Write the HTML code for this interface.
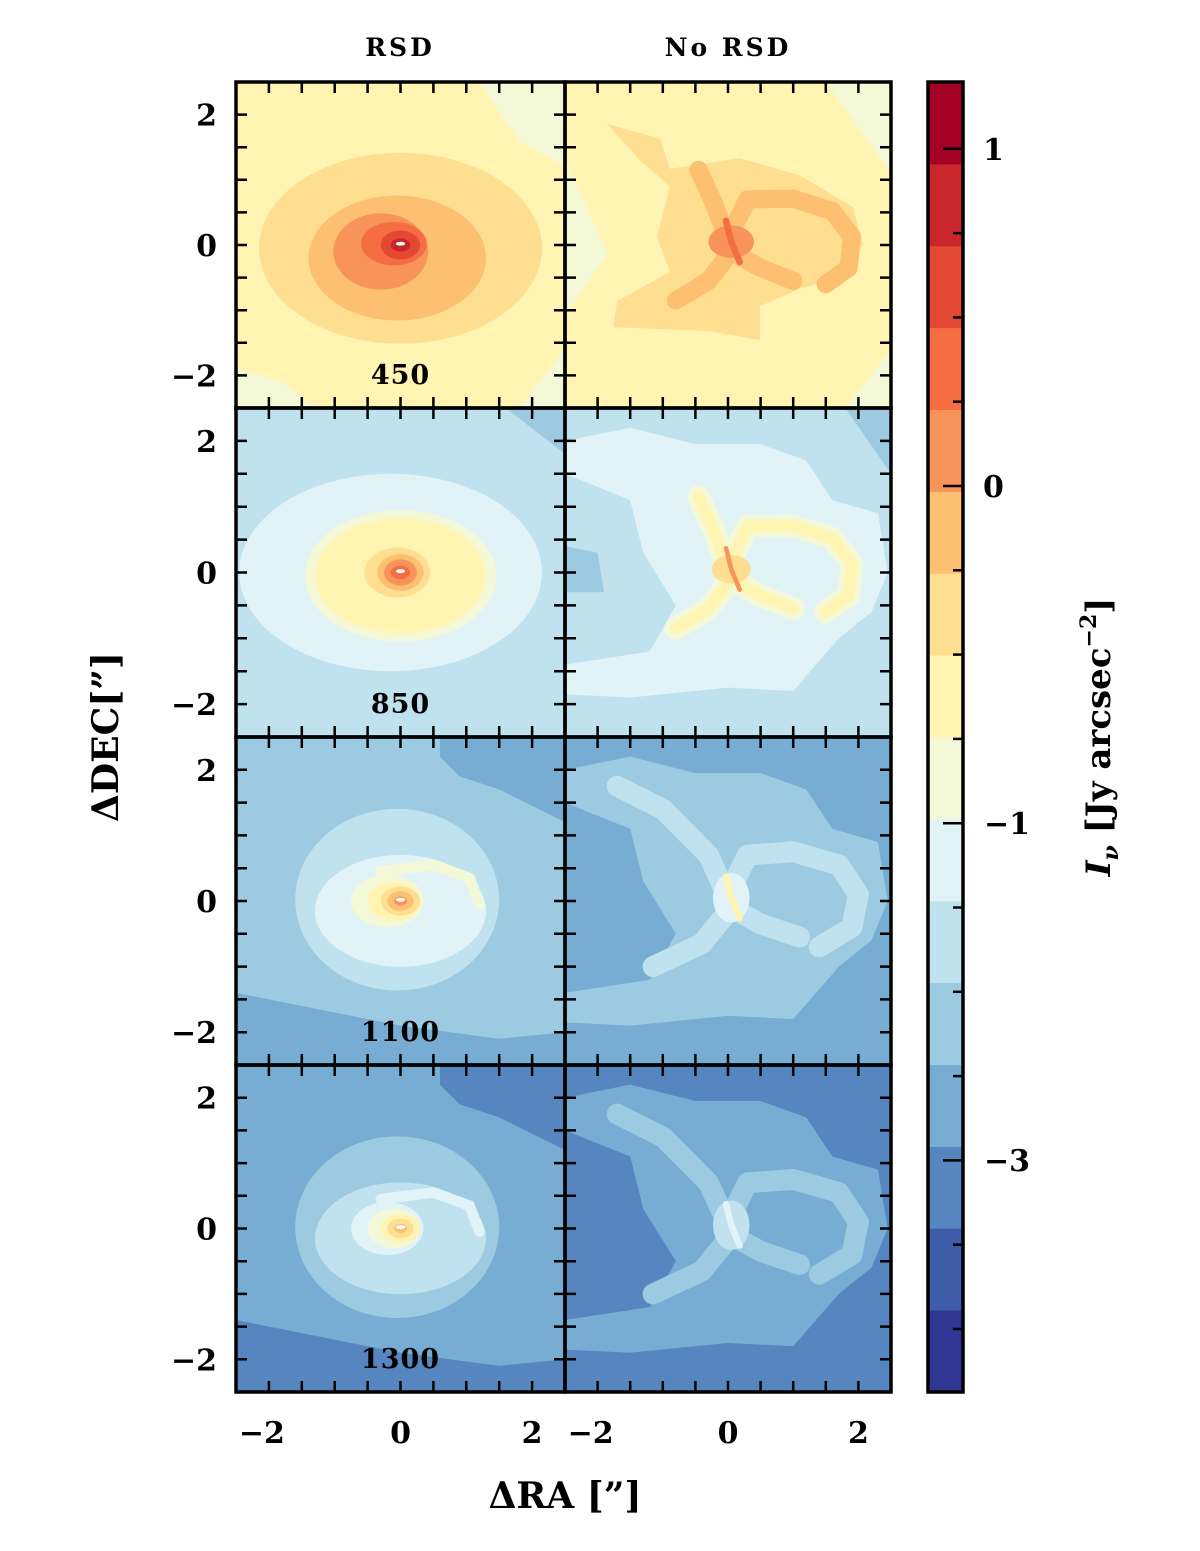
<!DOCTYPE html>
<html><head><meta charset="utf-8"><style>
html,body{margin:0;padding:0;background:#fff;}
svg{display:block;}
text{font-family:"DejaVu Serif","Liberation Serif",serif;font-weight:bold;fill:#000;}
</style></head><body>
<svg id="fig" width="1200" height="1551" viewBox="0 0 1200 1551" xmlns="http://www.w3.org/2000/svg">
<defs id="defs"></defs>
<g id="panels"></g>
<g id="frames"></g>
<g id="cbar"></g>
<text x="400" y="56" font-size="25" text-anchor="middle" letter-spacing="3">RSD</text>
<text x="728" y="56" font-size="25" text-anchor="middle" letter-spacing="3">No RSD</text>
<text x="565" y="1508" font-size="36" text-anchor="middle">ΔRA [”]</text>
<text x="0" y="0" font-size="36" text-anchor="middle" transform="translate(118,737) rotate(-90)">ΔDEC[”]</text>
<text x="0" y="0" font-size="34" text-anchor="middle" transform="translate(1110,737) rotate(-90)"><tspan font-style="italic">I</tspan><tspan font-style="italic" font-size="22" dy="8">ν</tspan><tspan dy="-8"> [Jy arcsec</tspan><tspan font-size="22" dy="-14">−2</tspan><tspan dy="14">]</tspan></text>
</svg>
<script>
// colour bands (index 0 = lowest level)
const bandColors = ["#313695","#3f5ca9","#5785c0","#77acd3","#9ccae1","#c0e2ee","#e2f3f8","#f3f9d6","#fff4b2","#fedf92","#fdbf70","#f8935a","#f46d43","#e34932","#c9252a","#a50026"];
const xTickLabels = ["−2","0","2"];
const xTickValues = [-2,0,2];
const yTickLabels = ["2","0","−2"];
const yTickValues = [2,0,-2];
const wavelengths = ["450","850","1100","1300"];
const cbarLabels = ["1","0","−1","−3"];

// shared geometry (arcsec)
const polyBig = [[-1.86,1.86],[-1.04,1.63],[-0.89,1.17],[0.18,1.33],[1.1,1.07],[1.92,0.58],[2.07,0],[1.82,-0.48],[1.1,-0.67],[0.49,-0.94],[0.49,-1.46],[-0.28,-1.32],[-1.76,-1.26],[-1.7,-0.86],[-0.89,-0.41],[-1.09,0.12],[-0.89,0.9],[-1.35,1.3]];
const polyOuter = [[-2.5,2.0],[-1.5,2.2],[-0.5,1.95],[0.5,1.95],[1.2,1.7],[1.6,1.1],[2.3,0.9],[2.45,0],[2.2,-0.6],[1.7,-1.0],[1.0,-1.8],[0,-1.75],[-1.5,-1.9],[-2.5,-1.85],[-2.5,-1.4],[-1.2,-1.2],[-0.8,-0.5],[-1.3,0.3],[-1.5,1.1],[-2.5,1.5]];
const armsShort = [[[0,0.05],[-0.2,0.6],[-0.45,1.15]],[[0.1,0.3],[0.3,0.7],[1.0,0.71],[1.6,0.52],[1.9,0.13],[1.85,-0.35],[1.5,-0.6]],[[0.05,-0.1],[-0.3,-0.55],[-0.8,-0.85]],[[0.05,-0.1],[0.5,-0.35],[1.0,-0.55]]];
const armsLong = [[[0,0.05],[-0.3,0.7],[-1.0,1.4],[-1.7,1.75]],[[0.1,0.3],[0.3,0.7],[1.0,0.75],[1.7,0.55],[2.0,0.1],[1.9,-0.4],[1.4,-0.7]],[[0.05,-0.1],[-0.4,-0.65],[-1.15,-1.0]],[[0.05,-0.1],[0.5,-0.35],[1.1,-0.55]]];
const starLine = [[-0.03,0.37],[0.05,0.05],[0.18,-0.26]];
const spiralArc = [[-0.3,0.45],[0.5,0.55],[1.05,0.35],[1.2,-0.05]];
const cornerTR = [[1.2,2.5],[2.5,2.5],[2.5,1.2],[1.8,1.6]];
const cornerBL = [[-2.5,-1.9],[-1.8,-2.1],[-1.3,-2.5],[-2.5,-2.5]];
const cornerBR = [[1.8,-2.5],[2.5,-1.6],[2.5,-2.5]];
const leftWedge = [[-2.5,1.3],[-1.84,-0.14],[-2.5,-1.06]];
const darkTR = [[0.6,2.5],[2.5,2.5],[2.5,1.2],[1.5,1.7],[0.9,1.9],[0.6,2.2]];
const darkBottom = [[-2.5,-1.4],[-1.5,-1.6],[0,-1.9],[1.5,-2.1],[2.5,-2.0],[2.5,-2.5],[-2.5,-2.5]];
const darkLeft = [[-2.5,1.6],[-1.6,1.4],[-1.3,0.5],[-1.2,-0.6],[-1.6,-1.3],[-2.5,-1.4]];

const panelRSD450 = {bg:8, layers:[["poly",cornerTR,7],["poly",cornerBL,7],["poly",cornerBR,7],["ell",[0,-0.05,2.15,1.45],9],["ell",[-0.05,-0.2,1.35,0.95],10],["ell",[-0.3,-0.1,0.72,0.58],11],["ell",[-0.1,0.02,0.5,0.33],12],["ell",[0,0,0.3,0.22],13],["ell",[0,0,0.15,0.1],14],["ell",[0,0.02,0.07,0.03],-1]]};
const panelRSD850 = {bg:5, layers:[["poly",[[1.6,2.5],[2.5,2.5],[2.5,1.8]],4],["ell",[-0.15,0,2.3,1.5],6],["ell",[0,-0.05,1.45,1.0],7],["ell",[0,-0.05,1.3,0.88],8],["ell",[-0.05,0,0.5,0.38],9],["ell",[0,0,0.35,0.28],10],["ell",[0,0,0.25,0.2],11],["ell",[0,0,0.15,0.1],12],["ell",[0,0.02,0.07,0.03],-1]]};
const panelRSD1100 = {bg:4, layers:[["poly",darkTR,3],["poly",darkBottom,3],["ell",[-0.05,0.02,1.55,1.38],5],["ell",[0,-0.15,1.3,0.85],6],["line",spiralArc,7,0.16],["ell",[-0.2,0,0.55,0.4],7],["ell",[-0.1,0,0.4,0.3],8],["ell",[0,0,0.3,0.22],9],["ell",[0,0,0.2,0.15],10],["ell",[0,0,0.1,0.07],11],["ell",[0,0.02,0.07,0.03],-1]]};
const panelRSD1300 = {bg:3, layers:[["poly",darkTR,2],["poly",darkBottom,2],["ell",[-0.05,0.02,1.55,1.38],4],["ell",[0,-0.15,1.3,0.85],5],["line",spiralArc,6,0.16],["ell",[-0.2,0,0.55,0.4],6],["ell",[-0.1,0,0.4,0.3],7],["ell",[0,0,0.3,0.22],8],["ell",[0,0,0.2,0.15],9],["ell",[0,0,0.1,0.07],10],["ell",[0,0.02,0.07,0.03],-1]]};
const panelNR450 = {bg:8, layers:[["poly",[[1.5,2.5],[2.5,2.5],[2.5,1.1]],7],["poly",leftWedge,7],["poly",cornerBR,7],["poly",polyBig,9],["arms",armsShort,10,0.28],["ell",[0.05,0.05,0.35,0.25],11],["line",starLine,12,0.1]]};
const panelNR850 = {bg:5, layers:[["poly",[[1.8,2.5],[2.5,2.5],[2.5,1.5]],4],["poly",[[-2.5,0.4],[-2.0,0.3],[-1.9,-0.3],[-2.5,-0.3]],4],["poly",polyOuter,6],["arms",armsShort,7,0.35],["arms",armsShort,8,0.18],["ell",[0.05,0.05,0.3,0.22],9],["line",starLine,11,0.07]]};
const panelNR1100 = {bg:3, layers:[["poly",polyOuter,4],["arms",armsLong,5,0.32],["ell",[0.05,0.05,0.28,0.38],6],["line",starLine,8,0.1]]};
const panelNR1300 = {bg:2, layers:[["poly",darkLeft,2],["poly",polyOuter,3],["arms",armsLong,4,0.32],["ell",[0.05,0.05,0.28,0.38],5],["line",starLine,6,0.1]]};
const panelGrid = [[panelRSD450,panelNR450],[panelRSD850,panelNR850],[panelRSD1100,panelNR1100],[panelRSD1300,panelNR1300]];

const NS = "http://www.w3.org/2000/svg";
const colX = [236,565], colW = [329,326];
const rowY = [82,408,737,1065], rowH = [326,329,328,327];
function mk(tag, attrs, parent){const e=document.createElementNS(NS,tag);for(const k in attrs)e.setAttribute(k,attrs[k]);parent.appendChild(e);return e;}
function col(b){return b<0?"#ffffff":bandColors[b];}

const panelsG = document.getElementById("panels");
const framesG = document.getElementById("frames");
const defs = document.getElementById("defs");
const svg = document.getElementById("fig");

panelGrid.forEach((row, r) => {
  row.forEach((pd, c) => {
    const x0 = colX[c], w = colW[c], y0 = rowY[r], h = rowH[r];
    const sx = v => x0 + (v + 2.5) / 5 * w;
    const sy = v => y0 + (2.5 - v) / 5 * h;
    const k = w / 5;
    const cp = mk("clipPath", {id: "clip" + r + c}, defs);
    mk("rect", {x: x0, y: y0, width: w, height: h}, cp);
    const g = mk("g", {"clip-path": "url(#clip" + r + c + ")"}, panelsG);
    
    
    const bg = mk("rect", {x: x0, y: y0, width: w, height: h, fill: col(pd.bg)}, g);
    
    
    pd.layers.forEach(L => {
      const [type, geo, band, wid] = L;
      let el;
      if (type === "ell") {
        el = mk("ellipse", {cx: sx(geo[0]), cy: sy(geo[1]), rx: geo[2] * k, ry: geo[3] * k, fill: col(band)}, g);
      } else if (type === "poly") {
        el = mk("polygon", {points: geo.map(p => sx(p[0]) + "," + sy(p[1])).join(" "), fill: col(band)}, g);
      } else if (type === "line") {
        el = mk("polyline", {points: geo.map(p => sx(p[0]) + "," + sy(p[1])).join(" "), fill: "none", stroke: col(band), "stroke-width": wid * k, "stroke-linecap": "round", "stroke-linejoin": "round"}, g);
      } else if (type === "arms") {
        el = mk("g", {}, g);
        geo.forEach(a => {
          const pl = mk("polyline", {points: a.map(p => sx(p[0]) + "," + sy(p[1])).join(" "), fill: "none", stroke: col(band), "stroke-width": wid * k, "stroke-linecap": "round", "stroke-linejoin": "round"}, el);
          
          
        });
      }
      
      
    });
    const fr = mk("rect", {x: x0, y: y0, width: w, height: h, fill: "none", stroke: "#000", "stroke-width": 3.5}, framesG);
    
    
    for (let t = -2; t <= 2.001; t += 0.5) {
      const tx = sx(t), ty = sy(t);
      const tk = mk("path", {d: `M${tx},${y0}v11M${tx},${y0+h}v-11M${x0},${ty}h11M${x0+w},${ty}h-11`, stroke: "#000", "stroke-width": 2.5, fill: "none"}, framesG);
      
      
    }
    if (c === 0) {
      yTickValues.forEach((v, i) => {
        const t = mk("text", {x: 217, y: sy(v) + 11, "font-size": 30, "text-anchor": "end"}, svg);
        t.textContent = yTickLabels[i];
        
        
      });
      const wl = mk("text", {x: sx(0), y: sy(-2.5) - 24, "font-size": 27, "text-anchor": "middle", "letter-spacing": 1}, svg);
      wl.textContent = wavelengths[r];
      
      
    }
    if (r === 3) {
      xTickValues.forEach((v, i) => {
        const t = mk("text", {x: sx(v) - (i === 0 ? 7 : 0), y: 1443, "font-size": 30, "text-anchor": "middle"}, svg);
        t.textContent = xTickLabels[i];
        
        
      });
    }
  });
});

// colorbar
const cb = document.getElementById("cbar");
const cbX = 928, cbW = 35, cbTop = 82, cbBot = 1392;
const bandH = (cbBot - cbTop) / bandColors.length;
bandColors.forEach((cc, i) => {
  const rr = mk("rect", {x: cbX, y: cbBot - (i + 1) * bandH, width: cbW, height: bandH + 0.5, fill: cc}, cb);
  
  
});
const cbf = mk("rect", {x: cbX, y: cbTop, width: cbW, height: cbBot - cbTop, fill: "none", stroke: "#000", "stroke-width": 3.5}, cb);


for (let i = 0; i < 15; i++) {
  const yy = 1329 - i * 84.3;
  const major = [0,4,8,12].includes(14 - i);
  const tk = mk("line", {x1: cbX + cbW, x2: cbX + cbW - (major ? 20 : 10), y1: yy, y2: yy, stroke: "#000", "stroke-width": 2.5}, cb);
  
  
}
cbarLabels.forEach((lab, i) => {
  const yy = 149 + i * 337;
  const t = mk("text", {x: lab.length > 1 ? 984 : 983, y: yy + 11, "font-size": 30, "text-anchor": "start"}, cb);
  t.textContent = lab;
  
  
});
</script>
</body></html>
